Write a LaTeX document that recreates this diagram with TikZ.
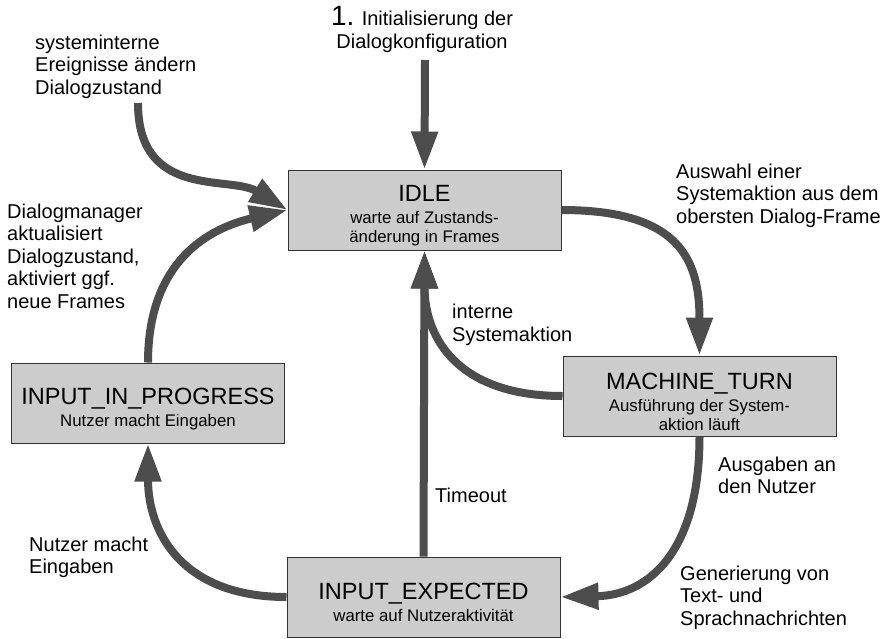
\documentclass[tikz,border=0pt]{standalone}
\usepackage{fontspec}
\setmainfont{Liberation Sans}
\usetikzlibrary{arrows.meta}
\definecolor{boxfill}{HTML}{CCCCCC}
\definecolor{boxline}{HTML}{333333}
\definecolor{flow}{HTML}{4D4D4D}
\tikzset{
  state/.style={draw=boxline, line width=1pt, fill=boxfill, rectangle,
    minimum width=273pt, minimum height=80pt, inner sep=0pt, align=center,
    font=\fontsize{16.8}{19}\selectfont},
  flowarrow/.style={draw=flow, line width=8pt,
    -{Triangle[width=25pt,length=38pt]}},
  note/.style={align=left, anchor=base west, inner sep=0pt,
    font=\fontsize{20}{22.5}\selectfont, text=black},
}
% state title: larger type, with a strut that pushes the text block down a little
\newcommand{\stitle}[1]{{\fontsize{23.5}{19}\selectfont\rule{0pt}{28pt}#1}}
\begin{document}
\begin{tikzpicture}[x=1pt,y=-1pt]
\useasboundingbox (0,0) rectangle (890,638);

% states
\node[state] (idle) at (424.5,210)
  {\stitle{IDLE}\\[3pt]warte auf Zustands-\\änderung in Frames};
\node[state] (mt) at (699.5,396)
  {\stitle{MACHINE\_TURN}\\[3pt]Ausführung der System-\\aktion läuft};
\node[state] (iip) at (148,403)
  {\stitle{INPUT\_IN\_PROGRESS}\\[3pt]Nutzer macht Eingaben};
\node[state] (ie) at (423.5,597)
  {\stitle{INPUT\_EXPECTED}\\[3pt]warte auf Nutzeraktivität};

% free starting points
\coordinate (init) at (425,60);
\coordinate (sysev) at (138,103);

% transitions
\draw[flowarrow] (init) -- (idle.north);
\draw[flowarrow] (sysev) .. controls (138,200) and (230,175) .. (idle.west);
\draw[flowarrow] (iip.north) .. controls (148,260) and (210,228) .. (idle.west);
\draw[flowarrow] (idle.east) .. controls (680,210) and (699.5,260) .. (mt.north);
\draw[flowarrow] (mt.west) .. controls (460,396) and (424.5,340) .. (idle.south);
\draw[flowarrow] (ie.north) -- (idle.south);
\draw[flowarrow] (mt.south) .. controls (699.5,550) and (650,595) .. (ie.east);
\draw[flowarrow] (ie.west) .. controls (180,597) and (148,530) .. (iip.south);

% labels (anchored at the baseline of their last line)
\node[align=center, anchor=base, inner sep=0pt, font=\fontsize{20}{22.5}\selectfont]
  (initlbl) at (422,48) {{\fontsize{28}{22.5}\selectfont 1.} Initialisierung der\\Dialogkonfiguration};
\node[note] (syslbl) at (35,94) {systeminterne\\Ereignisse ändern\\Dialogzustand};
\node[note] (dmlbl) at (7,308) {Dialogmanager\\aktualisiert\\Dialogzustand,\\aktiviert ggf.\\neue Frames};
\node[note] (sellbl) at (676,223) {Auswahl einer\\Systemaktion aus dem\\obersten Dialog-Frame};
\node[note] (intlbl) at (452,341) {interne\\Systemaktion};
\node[note] (outlbl) at (718,493.5) {Ausgaben an\\den Nutzer};
\node[note] (tolbl) at (435,502) {Timeout};
\node[note] (inlbl) at (29,573.5) {Nutzer macht\\Eingaben};
\node[note] (genlbl) at (680,625) {Generierung von\\Text- und\\Sprachnachrichten};
\end{tikzpicture}
\end{document}
